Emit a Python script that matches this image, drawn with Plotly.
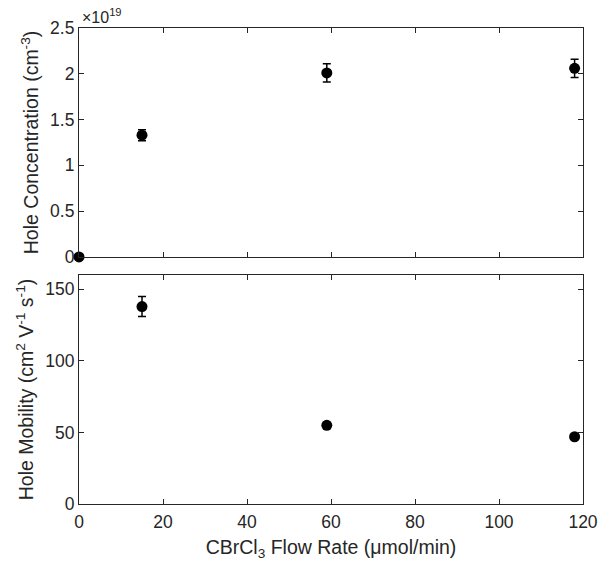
import plotly.graph_objects as go
from plotly.subplots import make_subplots

# Data
flow_conc = [0, 15, 59, 118]
conc_e19 = [0.0, 1.33, 2.01, 2.06]        # hole concentration, units of 1e19 cm^-3
conc_err_e19 = [0.0, 0.06, 0.10, 0.10]

flow_mob = [15, 59, 118]
mobility = [138, 55, 47]                  # cm^2 V^-1 s^-1
mobility_err = [7, 2, 1]

x_ticks = [0, 20, 40, 60, 80, 100, 120]
conc_ticks = [0, 0.5, 1, 1.5, 2, 2.5]
conc_ticklabels = ["0", "0.5", "1", "1.5", "2", "2.5"]
mob_ticks = [0, 50, 100, 150]

AX = "#262626"
FONT = "Liberation Sans, Arial, Helvetica, sans-serif"
TICK = 17.5
TITLE = 19.5

fig = make_subplots(rows=2, cols=1, shared_xaxes=False, vertical_spacing=0.038)

fig.add_trace(go.Scatter(
    x=flow_conc, y=conc_e19, mode="markers",
    marker=dict(color="black", size=11),
    error_y=dict(type="data", array=conc_err_e19, color="black", thickness=1.5, width=4),
    cliponaxis=False, showlegend=False), row=1, col=1)

fig.add_trace(go.Scatter(
    x=flow_mob, y=mobility, mode="markers",
    marker=dict(color="black", size=11),
    error_y=dict(type="data", array=mobility_err, color="black", thickness=1.5, width=4),
    cliponaxis=False, showlegend=False), row=2, col=1)

common_axis = dict(showline=True, linecolor=AX, linewidth=1.2, mirror="ticks",
                   ticks="inside", ticklen=5, tickcolor=AX, tickwidth=1.2,
                   showgrid=False, zeroline=False, automargin=False,
                   ticklabeloverflow="allow",
                   tickfont=dict(family=FONT, size=TICK, color=AX))

fig.update_xaxes(range=[0, 120], tickvals=x_ticks, **common_axis)
fig.update_xaxes(showticklabels=False, row=1, col=1)
fig.update_xaxes(title=dict(text="CBrCl<sub>3</sub> Flow Rate (μmol/min)",
                            font=dict(family=FONT, size=TITLE, color=AX), standoff=9),
                 ticklabelstandoff=2, row=2, col=1)

fig.update_yaxes(range=[0, 2.5], tickvals=conc_ticks, ticktext=conc_ticklabels,
                 title=dict(text="Hole Concentration (cm<sup>-3</sup>)",
                            font=dict(family=FONT, size=TITLE, color=AX), standoff=6),
                 **common_axis, row=1, col=1)
fig.update_yaxes(range=[0, 160], tickvals=mob_ticks,
                 title=dict(text="Hole Mobility (cm<sup>2</sup> V<sup>-1</sup> s<sup>-1</sup>)",
                            font=dict(family=FONT, size=TITLE, color=AX), standoff=6),
                 **common_axis, row=2, col=1)

fig.update_layout(
    width=600, height=573,
    margin=dict(l=79, r=17, t=28, b=69),
    plot_bgcolor="white", paper_bgcolor="white",
    font=dict(family=FONT, color=AX),
)
fig.update_layout(yaxis=dict(domain=[0.519, 1.0]), yaxis2=dict(domain=[0.0, 0.481]))

fig.add_annotation(text="×10<sup>19</sup>", xref="paper", yref="paper",
                   x=0.0, y=1.0, xanchor="left", yanchor="bottom", yshift=0, xshift=1,
                   showarrow=False, font=dict(family=FONT, size=16, color=AX))

# remove the page's default body margin so the 600x573 figure fills the window
fig.write_html("out.html",
               config={"displayModeBar": False},
               post_script="document.body.style.margin='0px';document.body.style.overflow='hidden';")
